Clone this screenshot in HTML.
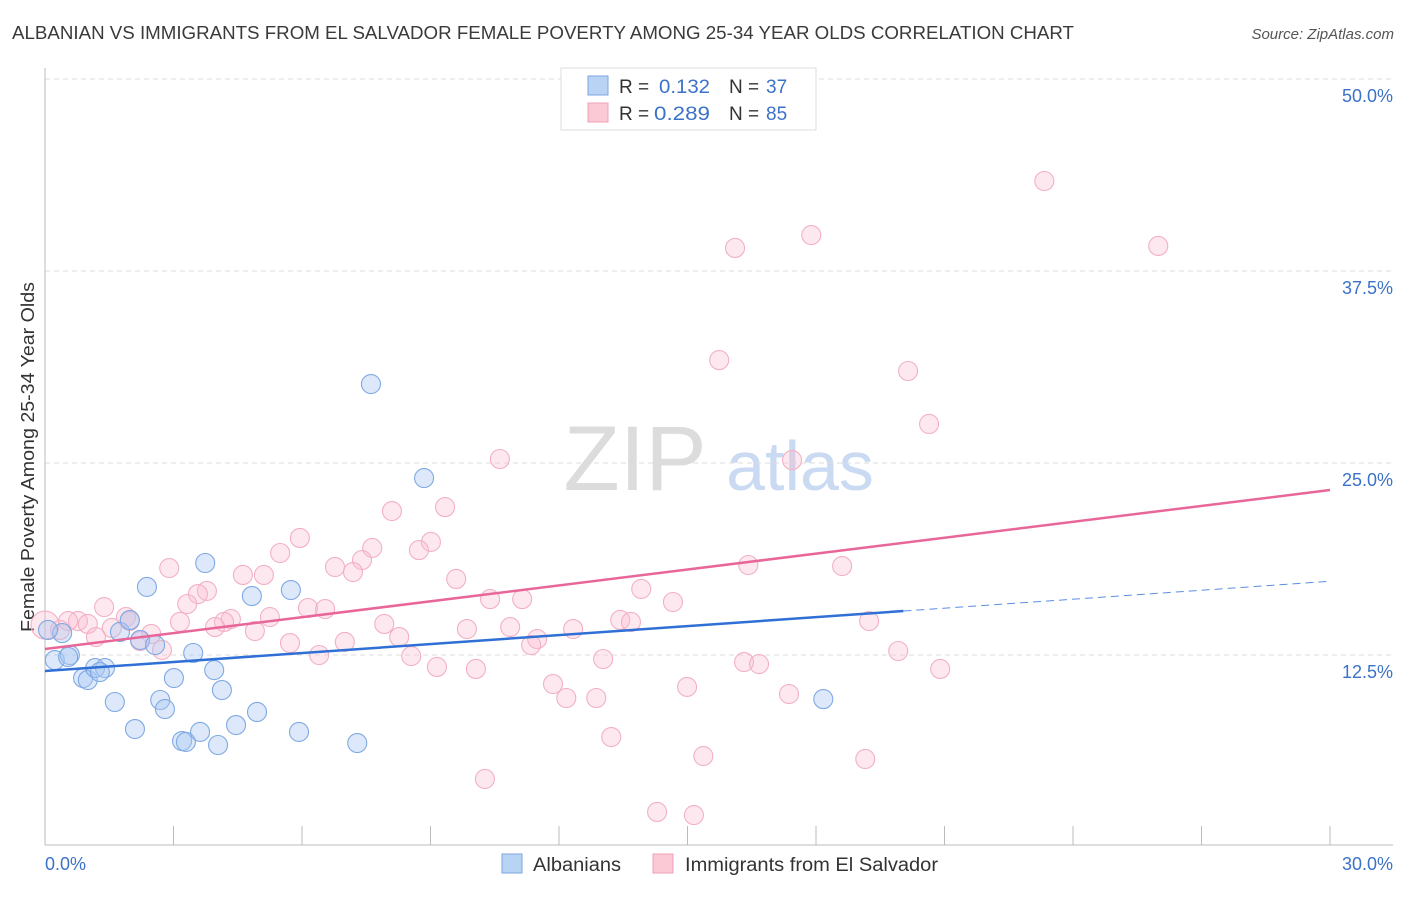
<!DOCTYPE html>
<html><head><meta charset="utf-8"><style>
body{margin:0;background:#fff;font-family:"Liberation Sans",sans-serif;}
svg text{font-family:"Liberation Sans",sans-serif;}
</style></head><body>
<svg id="chart" width="1406" height="892" viewBox="0 0 1406 892" xmlns="http://www.w3.org/2000/svg">
<text x="12" y="39" font-size="18" fill="#3a3a3a" textLength="1062" lengthAdjust="spacingAndGlyphs">ALBANIAN VS IMMIGRANTS FROM EL SALVADOR FEMALE POVERTY AMONG 25-34 YEAR OLDS CORRELATION CHART</text>
<text x="1394" y="39" font-size="15" fill="#555" font-style="italic" text-anchor="end">Source: ZipAtlas.com</text>
<text transform="translate(34,457) rotate(-90)" font-size="18" fill="#333" text-anchor="middle" textLength="350" lengthAdjust="spacingAndGlyphs">Female Poverty Among 25-34 Year Olds</text>
<g>
<text x="635" y="490" font-size="92" fill="#dcdcdc" font-family="Liberation Serif" text-anchor="middle">ZIP</text>
<text x="800" y="490" font-size="70" fill="#c9daf2" text-anchor="middle">atlas</text>
</g>
<g id="grid"></g><g id="axes"></g><g id="pts"></g><g id="lines"></g>
<g>
<rect x="561" y="68" width="255" height="62" fill="#fff" stroke="#ddd"/>
<rect x="588" y="76" width="20" height="19" fill="#b9d3f5" stroke="#7ea6e0"/>
<rect x="588" y="103" width="20" height="19" fill="#fbc8d6" stroke="#f0a0b8"/>
<text x="619" y="93" font-size="19" fill="#333">R =</text>
<text x="659" y="93" font-size="19" fill="#3b72c8" textLength="51" lengthAdjust="spacingAndGlyphs">0.132</text>
<text x="729" y="93" font-size="19" fill="#333">N =</text>
<text x="766" y="93" font-size="19" fill="#3b72c8">37</text>
<text x="619" y="120" font-size="19" fill="#333">R =</text>
<text x="654" y="120" font-size="19" fill="#3b72c8" textLength="56" lengthAdjust="spacingAndGlyphs">0.289</text>
<text x="729" y="120" font-size="19" fill="#333">N =</text>
<text x="766" y="120" font-size="19" fill="#3b72c8">85</text>
</g>
<g>
<rect x="502" y="854" width="20" height="19" fill="#b9d3f5" stroke="#7ea6e0"/>
<text x="533" y="871" font-size="19" fill="#333" textLength="88" lengthAdjust="spacingAndGlyphs">Albanians</text>
<rect x="653" y="854" width="20" height="19" fill="#fbc8d6" stroke="#f0a0b8"/>
<text x="685" y="871" font-size="19" fill="#333" textLength="253" lengthAdjust="spacingAndGlyphs">Immigrants from El Salvador</text>
</g>
</svg>
<script>
const yTicks=[12.5,25,37.5,50];
const yTickLabels=["12.5%","25.0%","37.5%","50.0%"];
const xTickLabels=["0.0%","30.0%"];
const blueX=[0.23,0.58,0.40,0.54,0.89,1.0,1.17,1.4,1.75,1.98,2.22,2.38,2.57,2.69,2.8,3.01,3.2,3.29,3.46,3.62,3.74,3.95,4.13,4.04,4.46,4.83,4.95,5.74,5.93,7.29,7.61,8.85,18.17,0.07,1.28,1.63,2.1];
const blueY=[12.17,12.5,13.93,12.37,11.0,10.87,11.65,11.65,14.0,14.78,13.48,16.93,13.15,9.57,8.98,11.0,6.9,6.84,12.63,7.49,18.49,11.52,10.22,6.64,7.94,16.34,8.79,16.73,7.49,6.77,30.14,24.02,9.63,14.13,11.39,9.44,7.68];
const pinkX=[23.33,25.99,16.11,17.89,15.74,20.15,20.64,17.44,10.62,9.34,8.1,9.01,8.73,7.64,5.95,5.49,7.4,6.77,7.19,9.6,4.62,5.11,2.9,3.78,3.57,3.32,1.38,10.39,11.14,13.92,14.66,16.42,18.61,6.14,6.54,4.34,4.18,3.97,3.15,2.48,1.89,1.98,1.56,0.77,1.0,0.54,0.35,0.0,4.9,7.92,9.85,10.86,12.33,13.43,13.68,19.24,1.19,2.22,2.73,5.72,7.0,8.27,11.49,11.35,6.4,8.55,13.03,9.15,10.06,19.92,16.32,16.67,20.9,11.86,12.17,12.87,14.99,17.37,13.22,15.37,19.15,10.27,14.29,15.15,5.25];
const pinkY=[43.36,39.13,39.0,39.84,31.7,30.99,27.54,25.19,25.26,22.13,21.87,19.86,19.33,19.47,20.12,19.14,18.68,18.23,17.9,17.45,17.71,17.71,18.16,16.67,16.47,15.82,15.62,16.14,16.14,16.8,15.95,18.36,18.29,15.56,15.49,14.84,14.65,14.32,14.65,13.87,14.97,14.71,14.26,14.71,14.52,14.71,14.13,14.45,14.06,14.52,14.19,14.32,14.19,14.78,14.65,14.71,13.67,13.41,12.83,13.28,13.35,13.67,13.54,13.15,12.5,12.43,12.24,11.72,11.59,12.76,12.04,11.91,11.59,10.61,9.7,9.7,10.42,9.96,7.16,5.92,5.73,4.43,2.28,2.08,14.97];
const blueTrend=[11.46,17.3];
const pinkTrend=[12.89,23.24];
const blueSolidEnd=20.04;
const X=v=>45+v/30*1285;
const Y=v=>847-v/12.5*192;
const NS="http://www.w3.org/2000/svg";
function mk(tag,attrs,parent){const e=document.createElementNS(NS,tag);for(const k in attrs)e.setAttribute(k,attrs[k]);document.getElementById(parent).appendChild(e);return e;}
let g=mk('line',{x1:45,x2:1393,y1:Y(50),y2:Y(50),stroke:'#ddd','stroke-dasharray':'5,4'},'grid');
yTicks.forEach((t,i)=>{
  const l=mk('line',{x1:45,x2:1393,y1:Y(t),y2:Y(t),stroke:'#ddd','stroke-dasharray':'5,4'},'grid');
  
  
  const tx=mk('text',{x:1393,y:Y(t)+23,'font-size':18,fill:'#3b72c8','text-anchor':'end'},'axes');
  tx.textContent=yTickLabels[i];
  
  
});
const ya=mk('line',{x1:45,x2:45,y1:68,y2:845,stroke:'#bbb'},'axes');


const xa=mk('line',{x1:45,x2:1393,y1:845,y2:845,stroke:'#bbb'},'axes');


for(let i=0;i<=10;i++){const t=mk('line',{x1:X(i*3),x2:X(i*3),y1:826,y2:845,stroke:'#bbb'},'axes');
  
  }
let t0=mk('text',{x:45,y:870,'font-size':18,fill:'#3b72c8'},'axes');t0.textContent=xTickLabels[0];


let t1=mk('text',{x:1393,y:870,'font-size':18,fill:'#3b72c8','text-anchor':'end'},'axes');t1.textContent=xTickLabels[1];


pinkX.forEach((x,i)=>{const c=mk('circle',{cx:X(x),cy:Y(pinkY[i]),r:i==47?14:9.5,fill:'rgba(250,190,208,0.35)',stroke:'#f3b0c4','stroke-width':1.1},'pts');
  
  });
blueX.forEach((x,i)=>{const c=mk('circle',{cx:X(x),cy:Y(blueY[i]),r:9.5,fill:'rgba(170,200,242,0.4)',stroke:'#7fa9e3','stroke-width':1.1},'pts');
  
  });
const by=v=>blueTrend[0]+(blueTrend[1]-blueTrend[0])*v/30;
let bl=mk('line',{x1:X(0),y1:Y(blueTrend[0]),x2:X(blueSolidEnd),y2:Y(by(blueSolidEnd)),stroke:'#2f6fd6','stroke-width':2.5},'lines');


let bd=mk('line',{x1:X(blueSolidEnd),y1:Y(by(blueSolidEnd)),x2:X(30),y2:Y(blueTrend[1]),stroke:'#5a8fe0','stroke-width':1,'stroke-dasharray':'8,5'},'lines');


let pl=mk('line',{x1:X(0),y1:Y(pinkTrend[0]),x2:X(30),y2:Y(pinkTrend[1]),stroke:'#e8669a','stroke-width':2.5},'lines');


</script>
</body></html>
